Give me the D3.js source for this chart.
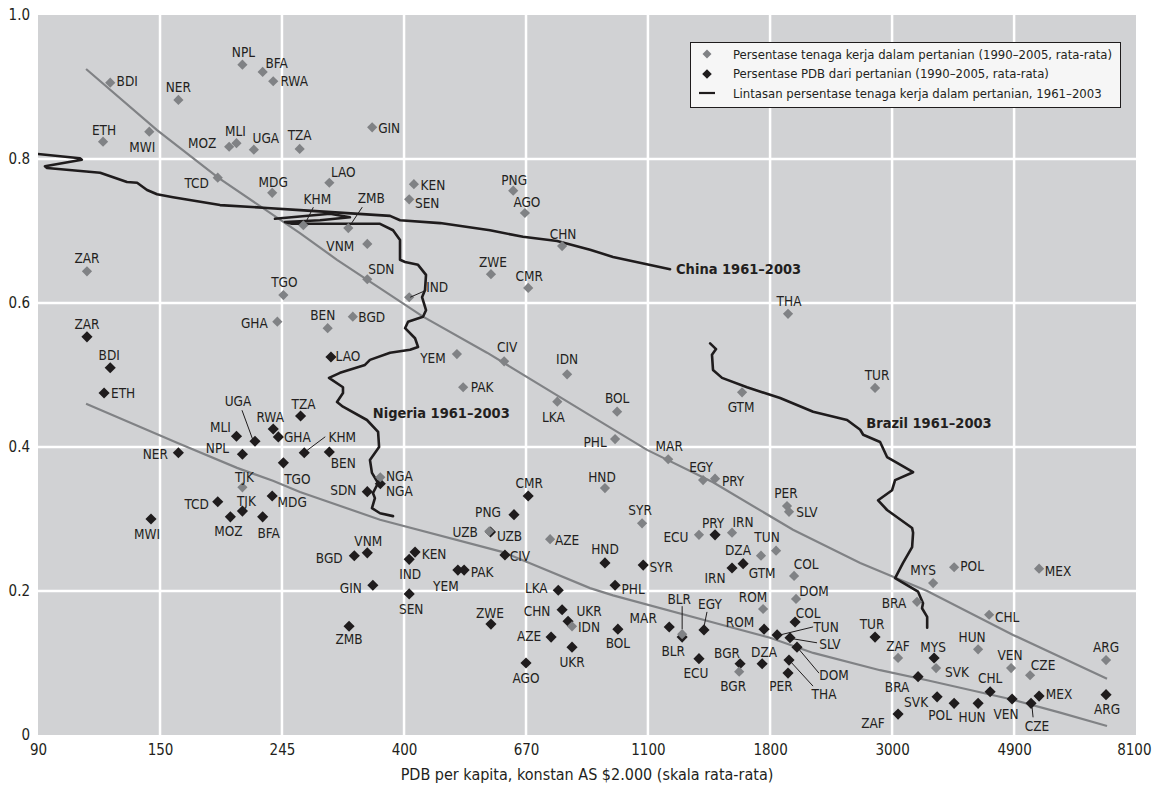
<html>
<head>
<meta charset="UTF-8">
<script src="https://cdn.jsdelivr.net/npm/d3@7"></script>
<style>
  body { margin: 0; background: #fff; }
  text { font-family: "Liberation Sans Narrow", "Arial Narrow", "DejaVu Sans Condensed", sans-serif; fill: #231f20; }
</style>
</head>
<body>
<svg id="chart" width="1152" height="786"></svg>
<script>
// ---- data ----
// labour share in agriculture, 1990-2005 average: [country, GDP per capita, share]
const labourPoints = [
  ["BDI",121,0.906],["NER",160,0.882],["ETH",117.5,0.824],["MWI",142,0.838],["NPL",208,0.931],
  ["BFA",226,0.921],["RWA",236,0.908],["MOZ",197,0.817],["MLI",203,0.822],["UGA",218,0.813],
  ["TZA",263,0.814],["TCD",188,0.774],["MDG",235,0.753],["ZAR",110,0.644],["GIN",354,0.844],
  ["LAO",297,0.767],["KHM",267,0.708],["ZMB",321,0.704],["VNM",347,0.682],["KEN",420,0.765],
  ["SEN",412,0.744],["PNG",631,0.756],["AGO",662,0.725],["CHN",771,0.679],["ZWE",576,0.640],
  ["CMR",671,0.621],["SDN",347,0.633],["IND",412,0.608],["TGO",246,0.611],["GHA",240,0.574],
  ["BEN",295,0.565],["BGD",327,0.581],["YEM",501,0.529],["CIV",608,0.519],["PAK",514,0.483],
  ["IDN",787,0.501],["LKA",756,0.463],["BOL",966,0.449],["PHL",958,0.411],["MAR",1191,0.383],
  ["EGY",1374,0.354],["PRY",1443,0.356],["HND",919,0.343],["GTM",1612,0.476],["THA",1946,0.585],
  ["TUR",2780,0.482],["PER",1938,0.318],["SLV",1954,0.310],["SYR",1070,0.294],["ECU",1351,0.278],
  ["IRN",1547,0.281],["TUN",1853,0.256],["DZA",1742,0.249],["COL",1995,0.221],["DOM",2011,0.189],
  ["ROM",1757,0.175],["BLR",1261,0.140],["BGR",1593,0.088],["UZB",572,0.283],["AZE",734,0.272],
  ["UKR",803,0.151],["MYS",3527,0.211],["POL",3844,0.233],["MEX",5445,0.231],["BRA",3302,0.185],
  ["CHL",4437,0.167],["HUN",4241,0.119],["ZAF",3055,0.107],["SVK",3570,0.093],["VEN",4855,0.093],
  ["CZE",5248,0.083],["ARG",7164,0.104],["TJK",208,0.344],["NGA",366,0.358]
];

// agriculture share of GDP, 1990-2005 average: [country, GDP per capita, share]
const gdpSharePoints = [
  ["ZAR",110,0.553],["BDI",121,0.510],["ETH",118,0.475],["NER",160,0.392],["MLI",203,0.415],
  ["UGA",219,0.408],["RWA",236,0.425],["GHA",241,0.414],["NPL",208,0.390],["TZA",264,0.443],
  ["TGO",246,0.378],["KHM",268,0.392],["BEN",297,0.393],["TCD",188,0.324],["TJK",208,0.311],
  ["MDG",235,0.332],["MOZ",198,0.303],["BFA",226,0.303],["MWI",143,0.300],["LAO",299,0.525],
  ["SDN",347,0.338],["NGA",366,0.349],["CMR",671,0.332],["PNG",633,0.306],["VNM",347,0.253],
  ["BGD",329,0.249],["KEN",422,0.254],["IND",412,0.244],["GIN",355,0.208],["SEN",412,0.196],
  ["ZMB",322,0.151],["YEM",503,0.229],["PAK",516,0.229],["CIV",610,0.250],["UZB",575,0.282],
  ["ZWE",576,0.154],["LKA",759,0.201],["CHN",771,0.174],["IDN",790,0.158],["AZE",737,0.136],
  ["UKR",803,0.122],["AGO",665,0.100],["HND",919,0.239],["SYR",1075,0.236],["PHL",958,0.208],
  ["MAR",1196,0.150],["BOL",969,0.147],["BLR",1261,0.136],["EGY",1379,0.146],["ECU",1351,0.106],
  ["PRY",1443,0.278],["IRN",1547,0.232],["GTM",1619,0.238],["ROM",1764,0.147],["TUN",1861,0.139],
  ["COL",2003,0.157],["SLV",1962,0.135],["DOM",2019,0.122],["THA",1954,0.104],["PER",1946,0.086],
  ["DZA",1750,0.099],["BGR",1599,0.099],["TUR",2780,0.136],["MYS",3541,0.107],["BRA",3316,0.081],
  ["SVK",3585,0.053],["POL",3844,0.044],["HUN",4241,0.044],["CHL",4455,0.060],["VEN",4875,0.050],
  ["CZE",5269,0.044],["MEX",5445,0.054],["ARG",7164,0.056],["ZAF",3055,0.029]
];

// fitted curves: [GDP per capita, share]
const labourFit = [[109.6,0.925],[146.6,0.840],[188.3,0.774],[263.3,0.697],[306.5,0.660],[436,0.581],
  [566.8,0.531],[864.6,0.444],[1092,0.396],[1431,0.351],[1986,0.285],[2616,0.239],[3442,0.200],
  [4895,0.139],[7193,0.078]];
const gdpShareFit = [[109.6,0.460],[159.1,0.406],[203.5,0.371],[235.7,0.353],[263.3,0.3375],[365.6,0.299],
  [605.2,0.254],[864.6,0.204],[949.9,0.194],[1534,0.150],[1808,0.135],[2157,0.114],[2838,0.090],
  [3442,0.076],[4895,0.049],[5935,0.031],[7193,0.0125]];

// trajectories 1961-2003: [GDP per capita, labour share]
const chinaPath = [[90,0.807],[106.9,0.801],[107.7,0.799],[92.6,0.790],[93.4,0.7875],[116.1,0.781],
  [129.6,0.768],[135.1,0.767],[140.7,0.757],[146.6,0.751],[156.5,0.747],[189.8,0.736],[230,0.732],
  [263.3,0.729],[380.9,0.721],[396.8,0.715],[467.7,0.711],[573.8,0.701],[656.9,0.692],[755.5,0.686],
  [864.6,0.674],[949.9,0.664],[1200,0.647]];
const nigeriaPath = [[237.7,0.717],[297.8,0.724],[323.2,0.719],[285.9,0.715],[247.6,0.7125],[254.8,0.710],
  [365.6,0.710],[385.6,0.701],[396.8,0.6875],[396.8,0.660],[405.1,0.657],
  [427.2,0.653],[441.4,0.639],[439.6,0.618],[434.3,0.608],[441.4,0.590],[436,0.581],[410.1,0.574],
  [405.1,0.565],[422,0.551],[427.2,0.539],[413.5,0.535],[380.9,0.531],[350.8,0.521],[343.7,0.514],
  [310.3,0.503],[296.6,0.496],[314.1,0.483],[314.1,0.475],[306.5,0.4625],[314.1,0.456],[346.5,0.4375],
  [362.7,0.421],[364.2,0.400],[350.8,0.382],[353.7,0.364],[362.7,0.350],[355.1,0.336],[358,0.329],
  [353.7,0.315],[365.6,0.308],[385.6,0.304]];
const brazilPath = [[1414,0.544],[1449,0.536],[1425,0.528],[1431,0.507],[1485,0.496],[1645,0.483],
  [1884,0.468],[2157,0.449],[2479,0.4375],[2616,0.424],[2648,0.417],[2838,0.407],[2920,0.386],
  [3043,0.378],[3249,0.365],[3018,0.354],[2981,0.340],[2815,0.326],[2920,0.3125],[3236,0.2875],
  [3249,0.281],[3236,0.261],[3118,0.239],[3018,0.218],[3316,0.199],[3384,0.183],[3370,0.176],
  [3442,0.164],[3442,0.149]];

const xTickValues = [90,148.4,244.6,403.4,665,1096,1808,2981,4915,8100];
const xTickLabels = ["90","150","245","400","670","1100","1800","3000","4900","8100"];
const yTickValues = [0,0.2,0.4,0.6,0.8,1.0];
const yTickLabels = ["0","0.2","0.4","0.6","0.8","1.0"];

const legendItems = [
  "Persentase tenaga kerja dalam pertanian (1990\u20132005, rata-rata)",
  "Persentase PDB dari pertanian (1990\u20132005, rata-rata)",
  "Lintasan persentase tenaga kerja dalam pertanian, 1961\u20132003"
];
const xTitle = "PDB per kapita, konstan AS $2.000 (skala rata-rata)";
const captions = [["China 1961\u20132003", 1200, 0.647], ["Nigeria 1961\u20132003", 352, 0.44], ["Brazil 1961\u20132003", 2660, 0.428]];

// ---- label layout: [dx, dy] of text centre, optional leader [x1,y1,x2,y2] relative to point ----
const labourLabelPos = {
  BDI:[17,-2],NER:[0,-13],ETH:[1,-12],MWI:[-7,15],NPL:[1,-13],BFA:[14,-9],RWA:[21,0],MOZ:[-27,-4],
  MLI:[-1,-12],UGA:[12,-12],TZA:[0,-14],TCD:[-21,5],MDG:[1,-11],ZAR:[0,-13],GIN:[17,1],LAO:[14,-11],
  KHM:[14,-26,10,-18,3,-4],ZMB:[23,-30,14,-21,2,-3],VNM:[-27,2],KEN:[19,1],SEN:[18,4],PNG:[1,-11],
  AGO:[2,-11],CHN:[1,-12],ZWE:[2,-12],CMR:[1,-12],SDN:[14,-10],IND:[28,-10,17,-7,1,0],TGO:[1,-13],
  GHA:[-23,1],BEN:[-5,-13],BGD:[19,0],YEM:[-24,4],CIV:[3,-14],PAK:[19,0],IDN:[0,-15],LKA:[-4,15],
  BOL:[0,-14],PHL:[-20,3],MAR:[1,-13],EGY:[-2,-13],PRY:[18,2],HND:[-3,-11],GTM:[-1,15],THA:[1,-13],
  TUR:[2,-13],PER:[-1,-13],SLV:[18,0],SYR:[-2,-13],ECU:[-23,2],IRN:[11,-11],TUN:[-9,-14],DZA:[-23,-6],
  COL:[12,-12],DOM:[18,-8],ROM:[-10,-12],BLR:[-3,-35,0,-28,0,-5],BGR:[-6,14],UZB:[-24,1],AZE:[17,1],
  UKR:[17,-15],MYS:[-10,-13],POL:[18,-1],MEX:[19,2],BRA:[-23,1],CHL:[18,2],HUN:[-6,-12],ZAF:[0,-12],
  SVK:[21,4],VEN:[-1,-13],CZE:[13,-10],ARG:[0,-13],TJK:[2,-10],NGA:[19,-1]
};
const gdpLabelPos = {
  ZAR:[0,-13],BDI:[-1,-13],ETH:[19,0],NER:[-23,1],MLI:[-16,-9],UGA:[-17,-40,-13,-31,-2,-1],RWA:[-3,-12],
  GHA:[19,0],NPL:[-25,-6],TZA:[3,-12],TGO:[14,16],KHM:[38,-16,21,-16,1,-1],BEN:[14,11],TCD:[-21,2],
  TJK:[4,-10],MDG:[20,6],MOZ:[-2,14],BFA:[6,16],MWI:[-4,15],LAO:[17,-1],SDN:[-24,-2],NGA:[19,7],
  CMR:[1,-13],PNG:[-26,-3],VNM:[1,-12],BGD:[-25,2],KEN:[19,2],IND:[1,15],GIN:[-22,3],SEN:[2,15],
  ZMB:[0,13],YEM:[-12,16],PAK:[18,2],CIV:[15,1],UZB:[19,4],ZWE:[-1,-11],LKA:[-22,-2],CHN:[-25,1],
  IDN:[21,6],AZE:[-22,-1],UKR:[0,15],AGO:[0,15],HND:[0,-14],SYR:[18,2],PHL:[18,4],MAR:[-26,-9],
  BOL:[0,14],BLR:[-9,14],EGY:[6,-26,3,-18,0,-3],ECU:[-3,14],PRY:[-2,-12],IRN:[-17,10],GTM:[19,9],
  ROM:[-24,-7],TUN:[49,-8,36,-8,3,0],COL:[13,-9],SLV:[40,6,27,5,3,1],DOM:[37,28,22,26,1,1],
  THA:[35,34,24,26,2,2],PER:[-7,13],DZA:[2,-12],BGR:[-13,-11],TUR:[-3,-13],MYS:[-1,-11],BRA:[-21,10],
  SVK:[-21,5],POL:[-14,12],HUN:[-6,14],CHL:[0,-14],VEN:[-6,15],CZE:[6,23,2,14,1,4],MEX:[20,-2],
  ARG:[1,14],ZAF:[-25,9]
};
const capOffset = [[6, 5], [2, 0], [2, 1]];

// ---- chart ----
const svg = d3.select("#chart");
const pLeft = 38, pRight = 1136, pTop = 15, pBottom = 735;
const x = d3.scaleLog().domain([90, 8100]).range([pLeft, pRight]);
const y = d3.scaleLinear().domain([0, 1]).range([pBottom, pTop]);

const grey = "#808285", dark = "#1f1c1d";

svg.append("rect").attr("x", pLeft).attr("y", pTop)
   .attr("width", pRight - pLeft).attr("height", pBottom - pTop).attr("fill", "#d1d2d4");

svg.append("defs").append("clipPath").attr("id", "clip")
   .append("rect").attr("x", pLeft).attr("y", pTop).attr("width", pRight - pLeft).attr("height", pBottom - pTop);

// gridlines
xTickValues.slice(1, -1).forEach(v => {
  svg.append("line").attr("x1", x(v)).attr("x2", x(v)).attr("y1", pTop).attr("y2", pBottom)
     .attr("stroke", "#fff").attr("stroke-width", 2.5);
});
yTickValues.slice(1, -1).forEach(v => {
  svg.append("line").attr("x1", pLeft).attr("x2", pRight).attr("y1", y(v)).attr("y2", y(v))
     .attr("stroke", "#fff").attr("stroke-width", 2.5);
});

// axes (labels only)
const xAxis = svg.append("g").attr("transform", `translate(0,${pBottom})`)
  .call(d3.axisBottom(x).tickValues(xTickValues).tickFormat((d, i) => xTickLabels[i]).tickSize(0).tickPadding(9));
const yAxis = svg.append("g").attr("transform", `translate(${pLeft},0)`)
  .call(d3.axisLeft(y).tickValues(yTickValues).tickFormat((d, i) => yTickLabels[i]).tickSize(0).tickPadding(8));
[xAxis, yAxis].forEach(g => {
  g.select(".domain").remove();
  g.selectAll("text").style("font-size", "15px").attr("fill", dark)
   .style("font-family", '"Liberation Sans Narrow", "Arial Narrow", "DejaVu Sans Condensed", sans-serif');
});
// keep the last tick label inside the page
xAxis.selectAll(".tick:last-of-type text").attr("text-anchor", "end").attr("x", 15);

svg.append("text").attr("x", (pLeft + pRight) / 2).attr("y", 780).attr("text-anchor", "middle")
   .style("font-size", "16px").text(xTitle);

const plot = svg.append("g").attr("clip-path", "url(#clip)");

// fitted curves
const line = d3.line().x(d => x(d[0])).y(d => y(d[1]));
[labourFit, gdpShareFit].forEach(s => {
  plot.append("path").attr("d", line(s)).attr("fill", "none")
      .attr("stroke", grey).attr("stroke-width", 2.2);
});

// trajectories
[chinaPath, nigeriaPath, brazilPath].forEach(s => {
  plot.append("path").attr("d", line(s)).attr("fill", "none").attr("stroke", dark)
      .attr("stroke-width", 2.6).attr("stroke-linejoin", "round").attr("stroke-linecap", "round");
});

// trajectory captions
captions.forEach((c, i) => {
  svg.append("text").attr("x", x(c[1]) + capOffset[i][0]).attr("y", y(c[2]) + capOffset[i][1])
     .style("font-size", "14.5px").style("font-weight", "bold").text(c[0]);
});

// markers
const diamond = d3.symbol().type(d3.symbolSquare);
function drawSeries(points, colour, size, layout) {
  const g = svg.append("g");
  points.forEach(p => {
    const px = x(p[1]), py = y(p[2]);
    g.append("path").attr("d", diamond.size(size)())
     .attr("transform", `translate(${px},${py}) rotate(45)`).attr("fill", colour);
  });
  return points.map(p => ({ p, px: x(p[1]), py: y(p[2]), pos: layout[p[0]] }));
}
const gdpMarks = drawSeries(gdpSharePoints, dark, 62, gdpLabelPos);
const labourMarks = drawSeries(labourPoints, grey, 52, labourLabelPos);

// labels and leaders
const labels = svg.append("g");
gdpMarks.concat(labourMarks).forEach(m => {
  const pos = m.pos || [12, 0];
  if (pos.length > 2) {
    labels.append("line").attr("x1", m.px + pos[2]).attr("y1", m.py + pos[3])
          .attr("x2", m.px + pos[4]).attr("y2", m.py + pos[5])
          .attr("stroke", dark).attr("stroke-width", 1);
  }
  labels.append("text").attr("x", m.px + pos[0]).attr("y", m.py + pos[1])
        .attr("text-anchor", "middle").attr("dominant-baseline", "central")
        .style("font-size", "13.5px").text(m.p[0]);
});

// legend
const lg = svg.append("g");
lg.append("rect").attr("x", 690.5).attr("y", 42.5).attr("width", 430).attr("height", 65)
  .attr("fill", "#f6f6f6").attr("stroke", dark).attr("stroke-width", 1);
lg.append("path").attr("d", diamond.size(40)()).attr("transform", "translate(707,54) rotate(45)").attr("fill", grey);
lg.append("path").attr("d", diamond.size(46)()).attr("transform", "translate(707,74) rotate(45)").attr("fill", dark);
lg.append("line").attr("x1", 699).attr("x2", 715).attr("y1", 93).attr("y2", 93).attr("stroke", dark).attr("stroke-width", 2.2);
legendItems.forEach((t, i) => {
  lg.append("text").attr("x", 733).attr("y", 54 + i * 19.5).attr("dominant-baseline", "central")
    .style("font-size", "13px").text(t);
});
</script>
</body>
</html>
